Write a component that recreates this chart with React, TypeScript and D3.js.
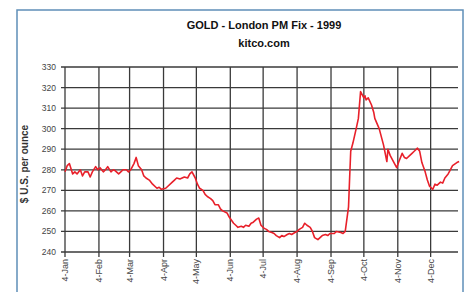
import * as d3 from "d3";
import React from "react";

// London PM fix, 1999
const fixDates: string[] = [
	"1999-01-04", "1999-01-06", "1999-01-08", "1999-01-11", "1999-01-13", "1999-01-15",
	"1999-01-18", "1999-01-20", "1999-01-22", "1999-01-25", "1999-01-27", "1999-01-29",
	"1999-02-01", "1999-02-03", "1999-02-05", "1999-02-08", "1999-02-10", "1999-02-12",
	"1999-02-15", "1999-02-17", "1999-02-19", "1999-02-22", "1999-02-24", "1999-02-26",
	"1999-03-01", "1999-03-03", "1999-03-05", "1999-03-08", "1999-03-10", "1999-03-12",
	"1999-03-15", "1999-03-17", "1999-03-19", "1999-03-22", "1999-03-25", "1999-03-29",
	"1999-03-31", "1999-04-02", "1999-04-06", "1999-04-08", "1999-04-12", "1999-04-14",
	"1999-04-16", "1999-04-19", "1999-04-21", "1999-04-23", "1999-04-26", "1999-04-28",
	"1999-04-30", "1999-05-03", "1999-05-05", "1999-05-07", "1999-05-10", "1999-05-12",
	"1999-05-14", "1999-05-17", "1999-05-19", "1999-05-21", "1999-05-24", "1999-05-26",
	"1999-05-28", "1999-06-01", "1999-06-03", "1999-06-07", "1999-06-09", "1999-06-11",
	"1999-06-14", "1999-06-16", "1999-06-18", "1999-06-21", "1999-06-23", "1999-06-25",
	"1999-06-28", "1999-06-30", "1999-07-02", "1999-07-05", "1999-07-07", "1999-07-09",
	"1999-07-12", "1999-07-14", "1999-07-16", "1999-07-19", "1999-07-21", "1999-07-23",
	"1999-07-26", "1999-07-28", "1999-07-30", "1999-08-02", "1999-08-04", "1999-08-06",
	"1999-08-09", "1999-08-11", "1999-08-13", "1999-08-16", "1999-08-18", "1999-08-20",
	"1999-08-23", "1999-08-25", "1999-08-27", "1999-08-30", "1999-09-01", "1999-09-03",
	"1999-09-07", "1999-09-09", "1999-09-13", "1999-09-15", "1999-09-17", "1999-09-20",
	"1999-09-21", "1999-09-22", "1999-09-24", "1999-09-27", "1999-09-29", "1999-10-01",
	"1999-10-04", "1999-10-05", "1999-10-06", "1999-10-08", "1999-10-11", "1999-10-13",
	"1999-10-14", "1999-10-18", "1999-10-20", "1999-10-22", "1999-10-25", "1999-10-26",
	"1999-10-28", "1999-11-01", "1999-11-03", "1999-11-05", "1999-11-08", "1999-11-10",
	"1999-11-12", "1999-11-15", "1999-11-17", "1999-11-19", "1999-11-22", "1999-11-24",
	"1999-11-26", "1999-11-29", "1999-12-01", "1999-12-03", "1999-12-06", "1999-12-08",
	"1999-12-10", "1999-12-13", "1999-12-15", "1999-12-17", "1999-12-20", "1999-12-22",
	"1999-12-24", "1999-12-28", "1999-12-30",
];

const fixPrices: number[] = [
	279, 282, 283, 278, 279, 278,
	280, 277, 279, 279, 276.5, 279,
	281.5, 280, 281, 279, 280, 281.5,
	279, 280, 279.5, 278, 279, 280,
	280, 279, 280, 283, 286, 282,
	280, 277, 276, 275, 273, 271,
	271.5, 270.5, 271, 272, 274, 275,
	276, 275.5, 276, 276.5, 276, 278,
	279, 276, 273, 271, 270, 268,
	267, 266, 265, 263, 263, 261,
	260, 259, 257, 254, 253, 252,
	252.5, 252, 253, 252.5, 254, 254.5,
	256, 256.5, 253, 251.5, 251, 250,
	249.5, 249, 248, 247, 248, 247.5,
	248.5, 249, 248.5, 249.5, 250, 251,
	252, 254, 253, 252, 250, 247,
	246, 247, 248, 248.5, 248, 249,
	249, 250, 249.5, 249, 250, 262,
	276, 289, 293, 300, 305, 318,
	315, 316, 314, 315, 311.5, 308,
	305, 300, 296, 292, 284, 290,
	287, 283, 281, 284, 288, 286,
	285.5, 287, 288, 289, 290.5, 289,
	283.5, 279, 275, 272, 270.5, 273,
	272.5, 274, 273.5, 276, 278, 280,
	282, 283.5, 284,
];

const yTicks: number[] = [330, 320, 310, 300, 290, 280, 270, 260, 250, 240];
const monthTicks: string[] = [
	"1999-01-04", "1999-02-04", "1999-03-04", "1999-04-04", "1999-05-04", "1999-06-04",
	"1999-07-04", "1999-08-04", "1999-09-04", "1999-10-04", "1999-11-04", "1999-12-04",
];

const parse = d3.timeParse("%Y-%m-%d");

const App = () => {
	const W = 470,
		H = 292;
	const plot = { left: 65, right: 458, top: 67, bottom: 252 };

	const x = d3
		.scaleTime()
		.domain([parse("1999-01-04")!, parse("1999-12-29")!])
		.range([plot.left, plot.right]);
	const y = d3
		.scaleLinear()
		.domain([240, 330])
		.range([plot.bottom, plot.top]);

	const points = fixDates.map((d, i) => ({ date: parse(d)!, value: fixPrices[i] }));
	const line = d3
		.line<{ date: Date; value: number }>()
		.x((d) => x(d.date))
		.y((d) => y(d.value));

	const fmt = d3.timeFormat("%-d-%b");
	const gridColor = "#3a3a3a";

	return (
		<svg
			width={W}
			height={H}
			style={{ position: "absolute", left: 0, top: 0, background: "#fff" }}
			fontFamily="Arial, 'Liberation Sans', sans-serif"
		>
			<rect x={17} y={10} width={446} height={300} fill="#fff" stroke="#5f8fb8" strokeWidth={1.5} />

			<text x={264} y={29} textAnchor="middle" fontSize={11} fontWeight="bold" fill="#111">
				GOLD - London  PM Fix - 1999
			</text>
			<text x={264} y={47} textAnchor="middle" fontSize={11} fontWeight="bold" fill="#111">
				kitco.com
			</text>

			{/* horizontal grid + y labels */}
			{yTicks.map((t) => (
				<g key={t}>
					<line x1={plot.left - 4} x2={plot.right} y1={y(t)} y2={y(t)} stroke={gridColor} strokeWidth={1.3} />
					<text x={56} y={y(t) + 3} textAnchor="end" fontSize={8.5} fill="#444">
						{t}
					</text>
				</g>
			))}

			{/* vertical grid + x labels */}
			{monthTicks.map((m) => {
				const xp = x(parse(m)!);
				return (
					<g key={m}>
						<line x1={xp} x2={xp} y1={plot.top} y2={plot.bottom + 5} stroke={gridColor} strokeWidth={1.3} />
						<text
							transform={`translate(${xp + 3},${plot.bottom + 7}) rotate(-90)`}
							textAnchor="end"
							fontSize={9}
							fill="#444"
						>
							{fmt(parse(m)!)}
						</text>
					</g>
				);
			})}

			<text
				transform={`translate(28,164) rotate(-90)`}
				textAnchor="middle"
				fontSize={10}
				fontWeight="bold"
				fill="#333"
			>
				$ U.S. per ounce
			</text>

			<path d={line(points)!} fill="none" stroke="#e8202a" strokeWidth={1.6} strokeLinejoin="round" />
		</svg>
	);
};

export default App;
